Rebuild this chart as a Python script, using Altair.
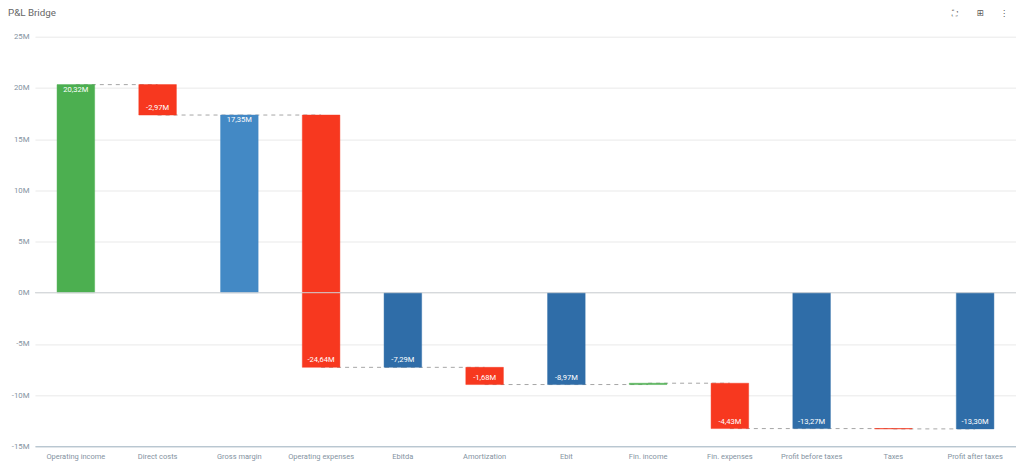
import altair as alt
import pandas as pd

categories = ["Operating income", "Direct costs", "Gross margin", "Operating expenses", "Ebitda", "Amortization",
              "Ebit", "Fin. income", "Fin. expenses", "Profit before taxes", "Taxes", "Profit after taxes"]
starts = [0, 20.32, 0, 17.35, 0, -7.29, 0, -8.97, -8.84, 0, -13.27, 0]
ends = [20.32, 17.35, 17.35, -7.29, -7.29, -8.97, -8.97, -8.84, -13.27, -13.27, -13.30, -13.30]
kinds = ["income", "loss", "margin", "loss", "result", "loss", "result", "income", "loss", "result", "loss", "result"]
labels = ["20,32M", "-2,97M", "17,35M", "-24,64M", "-7,29M", "-1,68M", "-8,97M", "", "-4,43M", "-13,27M", "", "-13,30M"]
# connector levels between each bar and the next one
links = [20.32, 17.35, 17.35, -7.29, -7.29, -8.97, -8.97, -8.84, -13.27, -13.27, -13.30]
kind_names = ["income", "loss", "margin", "result"]
kind_colors = ["#4CAF50", "#F7381F", "#4389C5", "#2F6DA8"]
y_ticks = [25, 20, 15, 10, 5, 0, -5, -10, -15]
title_text = "P&L Bridge"

FONT = "Roboto"
df = pd.DataFrame({"cat": categories, "start": starts, "end": ends, "kind": kinds, "label": labels})
link_df = pd.DataFrame({"cat": categories[:-1], "next": categories[1:], "level": links})
positive = df["kind"].isin(["margin"]) | (df["cat"] == "Operating income")
labelled = df["label"] != ""
up_df = df[positive & labelled]
down_df = df[~positive & labelled]

x = alt.X("cat:N", sort=categories, title=None,
          scale=alt.Scale(domain=categories, paddingInner=0.54, paddingOuter=0.27),
          axis=alt.Axis(labelAngle=0, labelAlign="center", labelBaseline="top", labelColor="#84939f",
                        labelFontSize=7.5, labelFont=FONT, labelPadding=6.5, ticks=False,
                        domainColor="#a3b7c4", domainWidth=1, grid=False, labelLimit=120))


def y(field):
    return alt.Y(field, title=None,
                 scale=alt.Scale(domain=[-15, 25], nice=False, zero=False),
                 axis=alt.Axis(values=y_ticks, labelExpr="datum.value + 'M'", labelColor="#84939f",
                               labelFontSize=7.8, labelFont=FONT, labelPadding=6, ticks=False, domain=False,
                               gridColor="#e9e9e9", gridWidth=1))


kind_scale = alt.Scale(domain=kind_names, range=kind_colors)
bars = alt.Chart(df).mark_bar(strokeWidth=1, strokeOpacity=0.45).encode(
    x=x, y=y("start:Q"), y2="end:Q",
    color=alt.Color("kind:N", scale=kind_scale, legend=None),
    stroke=alt.Stroke("kind:N", scale=kind_scale, legend=None),
)
zero = alt.Chart(pd.DataFrame({"z": [0]})).mark_rule(color="#cfd3d6", strokeWidth=1).encode(y=y("z:Q"))
connect = alt.Chart(link_df).mark_rule(color="#a6a6a6", strokeWidth=1, strokeDash=[4, 4]).encode(
    x=x, x2="next:N", y=y("level:Q"))
text_up = alt.Chart(up_df).mark_text(color="white", font=FONT, fontSize=7.6, dy=5).encode(
    x=x, y=y("end:Q"), text="label:N")
text_down = alt.Chart(down_df).mark_text(color="white", font=FONT, fontSize=7.6, dy=-7).encode(
    x=x, y=y("end:Q"), text="label:N")


def overlay_text(text, px, font, size, color, align):
    return alt.Chart(pd.DataFrame({"t": [text]})).mark_text(
        color=color, font=font, fontSize=size, align=align).encode(
        x=alt.value(px), y=alt.value(-23.5), text="t:N")


title_mark = overlay_text(title_text, -27, FONT, 9.8, "#666666", "left")
icons = [overlay_text(g, p, "DejaVu Sans", 8.5, "#555555", "center") for g, p in [("⛶", 921), ("⊞", 946), ("⋮", 970)]]

chart = alt.layer(connect, bars, zero, text_up, text_down, title_mark, *icons).properties(
    width=982, height=410,
    padding={"left": 27, "top": 28.5, "right": 0, "bottom": 20},
    autosize=alt.AutoSizeParams(type="none"),
).configure_view(stroke=None)

chart.save("out.html", embed_options={"renderer": "svg", "actions": False})
